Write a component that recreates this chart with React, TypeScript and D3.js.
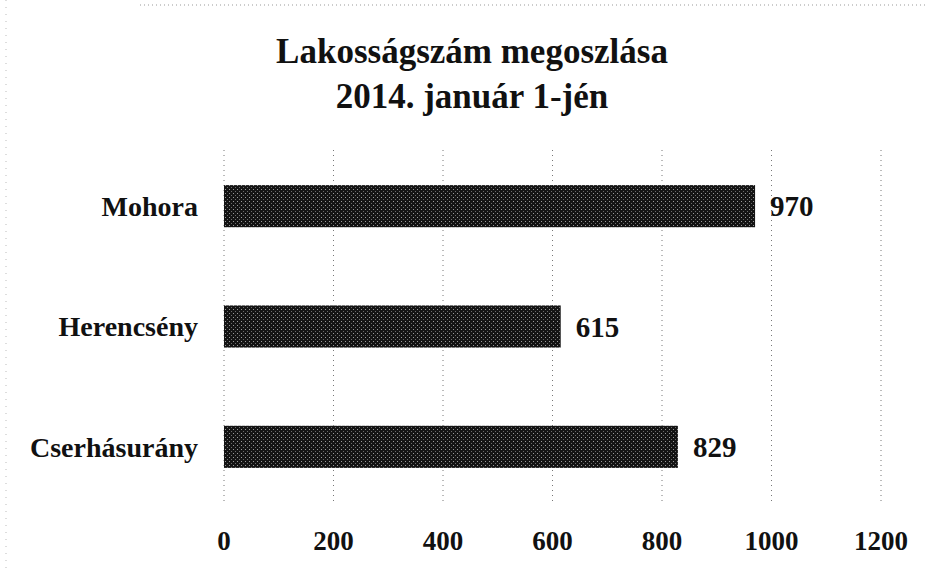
import React from "react";
import * as d3 from "d3";

const categories = ["Mohora", "Herencsény", "Cserhásurány"];
const values = [970, 615, 829];
const tickValues = [0, 200, 400, 600, 800, 1000, 1200];
const titleLines = ["Lakosságszám megoszlása", "2014. január 1-jén"];

const W = 928;
const H = 574;

export default function App() {
  const x = d3.scaleLinear().domain([0, 1200]).range([224, 881]);
  const y = d3
    .scaleBand<string>()
    .domain(categories)
    .range([146, 507])
    .paddingInner(0.65)
    .paddingOuter(0.325);

  const font = "'Liberation Serif', 'DejaVu Serif', serif";

  return (
    <svg
      width={W}
      height={H}
      style={{ position: "absolute", left: 0, top: 0, background: "#fff" }}
      fontFamily={font}
    >
      <defs>
        <pattern id="scan" width="4" height="4" patternUnits="userSpaceOnUse">
          <rect width="4" height="4" fill="#141414" />
          <rect x="1" y="1" width="1" height="1" fill="#9a9a9a" />
          <rect x="3" y="3" width="1" height="1" fill="#6a6a6a" />
        </pattern>
      </defs>

      {/* scan artefacts at the edges */}
      <line x1={140} x2={928} y1={5} y2={5} stroke="#999" strokeDasharray="1,3" />
      <line x1={6} x2={6} y1={0} y2={574} stroke="#bbb" strokeDasharray="1,6" />

      {titleLines.map((t, i) => (
        <text
          key={t}
          x={472}
          y={63 + i * 45}
          textAnchor="middle"
          fontWeight="bold"
          fontSize={35}
          fill="#111"
        >
          {t}
        </text>
      ))}

      {/* gridlines */}
      {tickValues.map((v) => (
        <line
          key={v}
          x1={x(v)}
          x2={x(v)}
          y1={150}
          y2={505}
          stroke="#777"
          strokeWidth={1}
          strokeDasharray="1,4"
        />
      ))}

      {categories.map((c, i) => (
        <g key={c}>
          <rect
            x={x(0)}
            y={y(c)}
            width={x(values[i]) - x(0)}
            height={y.bandwidth()}
            fill="url(#scan)"
          />
          <text
            x={198}
            y={(y(c) as number) + y.bandwidth() / 2}
            dy="0.35em"
            textAnchor="end"
            fontWeight="bold"
            fontSize={28}
            fill="#111"
          >
            {c}
          </text>
          <text
            x={x(values[i]) + 15}
            y={(y(c) as number) + y.bandwidth() / 2}
            dy="0.35em"
            fontWeight="bold"
            fontSize={29}
            fill="#111"
          >
            {values[i]}
          </text>
        </g>
      ))}

      {tickValues.map((v) => (
        <text
          key={v}
          x={x(v)}
          y={541}
          dy="0.35em"
          textAnchor="middle"
          fontWeight="bold"
          fontSize={27}
          fill="#111"
        >
          {v}
        </text>
      ))}
    </svg>
  );
}
